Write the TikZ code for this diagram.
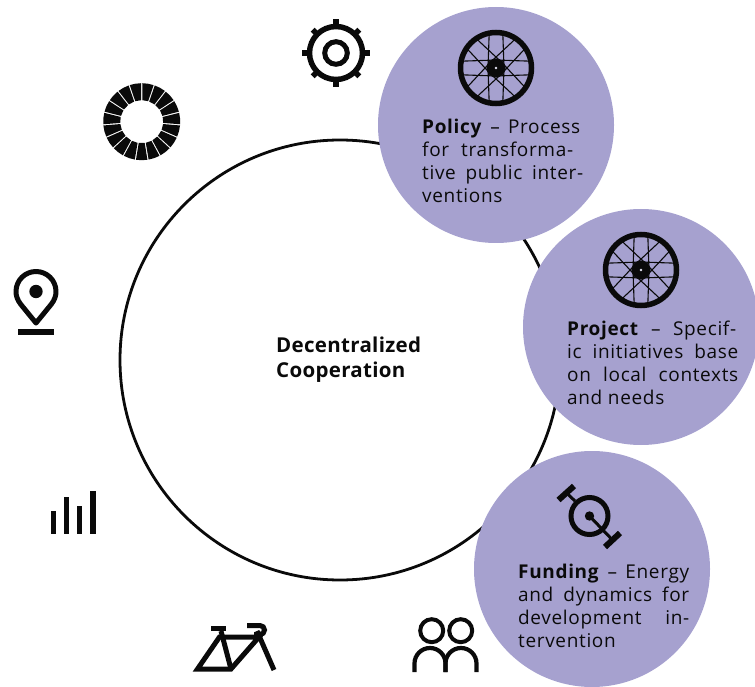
\documentclass[tikz,border=0pt]{standalone}
\usepackage{fontspec}
\setmainfont{Open Sans}[LetterSpace=3.5]
\newfontfamily\titlefont{Open Sans}[LetterSpace=1.5]
\definecolor{lav}{HTML}{A6A1CF}
\definecolor{ink}{HTML}{0A0A0A}
\newcommand{\jl}[2]{\hbox to #1pt{#2}\\}
\tikzset{
  bubble/.style={circle,fill=lav,minimum size=236pt,inner sep=0pt},
  blurb/.style={anchor=north west,inner sep=0pt,align=left,font=\fontsize{19}{23}\selectfont,text=ink},
  icon/.style={draw=ink,line width=5pt},
  thin spoke/.style={draw=ink,line width=1.1pt}
}
\newcommand{\wheel}[2]{%
  \draw[ink,line width=5.5pt] (#1,#2) circle (35.5);
  \foreach \i in {0,...,15}{
    \pgfmathsetmacro\rimang{\i*22.5+11.25}
    \pgfmathsetmacro\hubang{\rimang+80*(1-2*mod(\i,2))}
    \draw[thin spoke] ($(#1,#2)+(\hubang:8)$) -- ($(#1,#2)+(\rimang:35)$);
  }
  \fill[ink] (#1,#2) circle (9.5);
  \fill[lav!30!white] (#1,#2) circle (1.3);
}
\usetikzlibrary{calc}
\begin{document}
\begin{tikzpicture}[x=1pt,y=-1pt]
\useasboundingbox (0,0) rectangle (755,687);
\node[circle,draw=ink,line width=2.8pt,minimum size=440pt,inner sep=0pt] (core) at (340,360) {};
\node[bubble] (policy) at (496,125) {};
\node[bubble] (project) at (641,327) {};
\node[bubble] (funding) at (592,569) {};
\node[anchor=north west,inner sep=0pt,align=left,font=\titlefont\fontsize{20.5}{25}\selectfont\bfseries,text=ink] (coretext) at (276,337) {Decentralized\\Cooperation};
\node[blurb] (policytext) at (422,119) {\jl{158}{\textbf{Policy} – Process}\jl{151}{for transforma-}\jl{161}{tive public inter-}ventions};
\node[blurb] (projecttext) at (567,321) {\jl{169}{\textbf{Project} – Specif-}\jl{171}{ic initiatives base}\jl{171}{on local contexts}and needs};
\node[blurb] (fundingtext) at (518,564) {\jl{171}{\textbf{Funding} – Energy}\jl{171}{and dynamics for}\jl{171}{development\hfill in-}tervention};
\wheel{496}{68}
\wheel{641}{270}
% funding icon
\draw[icon,line width=5pt] (589.5,516) circle (18.5);
\fill[ink] (589.5,516) circle (4.7);
\draw[icon,line width=3pt] (589.5,516) -- (612.5,540);
\draw[icon,line width=3pt] (575,501) -- (566,492.5);
\draw[icon,line width=6pt] (558.5,500) -- (574,486);
\draw[icon,line width=6pt] (605,547) -- (620,533);
% gear
\draw[icon,line width=5.5pt] (336,53) circle (26.5);
\draw[icon,line width=5pt] (336,53) circle (11.3);
\foreach \a in {0,90,180,270}{\draw[icon,line width=5.5pt] ($(336,53)+(\a:26)$) -- ($(336,53)+(\a:34)$);}
\foreach \a in {45,135,225,315}{\draw[icon,line width=5.5pt] ($(336,53)+(\a:26)$) -- ($(336,53)+(\a:33)$);}
% segmented ring
\foreach \i in {0,...,18}{
  \pgfmathsetmacro\aa{-90+\i*360/19}
  \pgfmathsetmacro\ab{\aa+360/19}
  \fill[ink] ($(141.7,121.7)+(\aa+1.5:21.5)$) -- ($(141.7,121.7)+(\aa+0.9:38.5)$) arc[start angle=\aa+0.9,end angle=\ab-0.9,radius=38.5] -- ($(141.7,121.7)+(\ab-1.5:21.5)$) -- cycle;
}
% pin
\draw[icon,line join=round] (36,323) -- (20.5,304) .. controls (17.5,300) and (16,296) .. (16,291.5) arc[start angle=180,end angle=360,radius=20] .. controls (56,296) and (54.5,300) .. (51.5,304) -- cycle;
\fill[ink] (36,291.5) circle (6.7);
\fill[ink] (18,329) rectangle (54,335);
% bars
\fill[ink] (50.7,511) rectangle (56,534);
\fill[ink] (63.7,497) rectangle (69,534);
\fill[ink] (77,506) rectangle (82.3,534);
\fill[ink] (90.3,491) rectangle (95.7,534);
% bike
\draw[icon,line join=miter] (197.5,669) -- (219.5,637) -- (259,637) -- (231,669) -- cycle;
\draw[icon] (221,631) -- (231,669);
\draw[icon] (257,631) -- (274,670);
\fill[ink] (211,626) rectangle (226,631);
\draw[icon] (247,625.5) -- (260,625.5) arc[start angle=-90,end angle=90,radius=4.5] -- (254,634.5);
% people
\draw[icon,line width=4pt] (431.7,630.7) circle (11.5);
\draw[icon,line width=4pt] (460.7,630.7) circle (11.5);
\draw[icon,line width=4.2pt] (414.5,672) -- (414.5,663.5) arc[start angle=180,end angle=360,radius=15.5] -- (445.5,672);
\draw[icon,line width=4.2pt] (445.5,672) -- (445.5,663.5) arc[start angle=180,end angle=360,radius=15.5] -- (476.5,672);
\end{tikzpicture}
\end{document}
